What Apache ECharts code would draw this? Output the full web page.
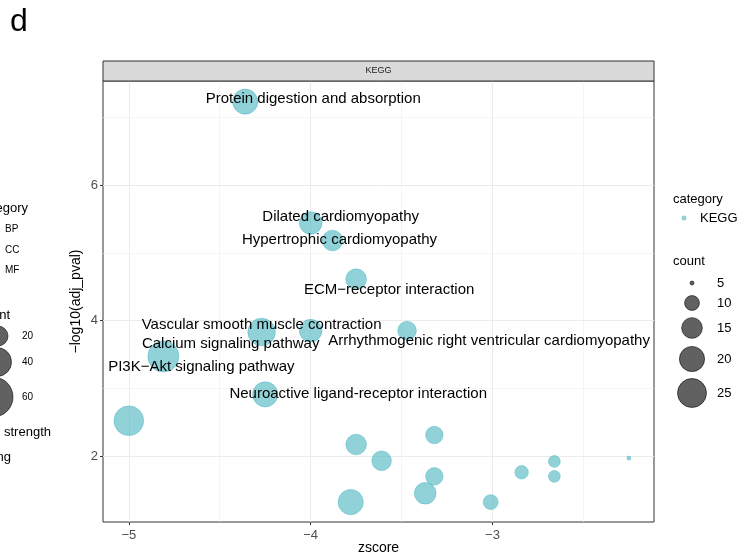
<!DOCTYPE html>
<html>
<head>
<meta charset="utf-8">
<script src="https://cdn.jsdelivr.net/npm/echarts@6/dist/echarts.min.js"></script>
<style>
html,body{margin:0;padding:0;background:#fff;}
#chart{width:746px;height:559px;}
</style>
</head>
<body>
<div id="chart"></div>
<script>
// ---- data ----
const pathways = [
  "Protein digestion and absorption",
  "Dilated cardiomyopathy",
  "Hypertrophic cardiomyopathy",
  "ECM\u2212receptor interaction",
  "Vascular smooth muscle contraction",
  "Calcium signaling pathway",
  "Arrhythmogenic right ventricular cardiomyopathy",
  "PI3K\u2212Akt signaling pathway",
  "Neuroactive ligand-receptor interaction",
  "", "", "", "", "", "", "", "", "", "", "", ""
];
const zscore = [-4.36, -4.00, -3.88, -3.75, -4.27, -4.00, -3.47, -4.81, -4.25,
  -5.00, -3.75, -3.32, -3.61, -3.32, -3.37, -3.78, -3.01, -2.84, -2.66, -2.66, -2.25];
const negLogAdjP = [7.23, 5.44, 5.18, 4.61, 3.83, 3.85, 3.85, 3.47, 2.91,
  2.52, 2.17, 2.31, 1.93, 1.70, 1.45, 1.32, 1.32, 1.76, 1.92, 1.70, 1.97];
const counts = [20, 17, 15, 15, 23, 17, 13, 28, 20,
  26, 15, 12, 14, 12, 16, 20, 10, 9, 8, 8, 5];
const xMajorTicks = [-5, -4, -3];
const xMinorTicks = [-4.5, -3.5, -2.5];
const yMajorTicks = [2, 4, 6];
const yMinorTicks = [3, 5, 7];
const sizeLegendCounts = [5, 10, 15, 20, 25];
const leftLegendCats = ["BP", "CC", "MF"];
const leftLegendSizes = [20, 40, 60];

// ---- styling ----
const FONT = "'Liberation Sans', Arial, Helvetica, sans-serif";
const pointColor = 'rgba(72,180,192,0.6)';
const xMin = -5.142, xMax = -2.112, yMin = 1.026, yMax = 7.535;
const gridL = 103, gridR = 92, gridT = 81, gridB = 37;
// label offsets (pixels, from point centre to label centre)
const labelOffsets = {
  "Protein digestion and absorption": [68, -3],
  "Dilated cardiomyopathy": [30, -6],
  "Hypertrophic cardiomyopathy": [7, -1],
  "ECM\u2212receptor interaction": [33, 11],
  "Vascular smooth muscle contraction": [0, -7],
  "Calcium signaling pathway": [-80, 13],
  "Arrhythmogenic right ventricular cardiomyopathy": [82, 10],
  "PI3K\u2212Akt signaling pathway": [38, 10],
  "Neuroactive ligand-receptor interaction": [93, 0]
};
function radiusFor(c) { return Math.sqrt(4 + (c - 5) * 10.3); }
const minusFmt = v => String(v).replace('-', '\u2212');

const data = zscore.map((z, i) => {
  const name = pathways[i];
  const item = { value: [z, negLogAdjP[i], counts[i]], name: name };
  if (name) item.label = { show: true };
  return item;
});

const chart = echarts.init(document.getElementById('chart'), null, { renderer: 'canvas' });

const plotW = 746 - gridL - gridR;
const graphics = [];
// panel strip
graphics.push({ type: 'rect', shape: { x: gridL, y: 61, width: plotW, height: 20 },
  style: { fill: '#D9D9D9', stroke: '#333333', lineWidth: 1 }, z: 10 });
graphics.push({ type: 'text', x: gridL + plotW / 2, y: 71,
  style: { text: 'KEGG', font: '9px ' + FONT, fill: '#1A1A1A', align: 'center', verticalAlign: 'middle' }, z: 11 });
// panel tag
graphics.push({ type: 'text', x: 10, y: 22,
  style: { text: 'd', font: '32px ' + FONT, fill: '#000', align: 'left', verticalAlign: 'middle' } });
// right legend: category
graphics.push({ type: 'text', x: 673, y: 199,
  style: { text: 'category', font: '13px ' + FONT, fill: '#000', align: 'left', verticalAlign: 'middle' } });
graphics.push({ type: 'circle', shape: { cx: 684, cy: 218, r: 2.5 }, style: { fill: pointColor } });
graphics.push({ type: 'text', x: 700, y: 218,
  style: { text: 'KEGG', font: '13px ' + FONT, fill: '#000', align: 'left', verticalAlign: 'middle' } });
// right legend: count
graphics.push({ type: 'text', x: 673, y: 261,
  style: { text: 'count', font: '13px ' + FONT, fill: '#000', align: 'left', verticalAlign: 'middle' } });
const sizeLegendY = [283, 303, 328, 359, 393];
sizeLegendCounts.forEach((c, i) => {
  graphics.push({ type: 'circle', shape: { cx: 692, cy: sizeLegendY[i], r: radiusFor(c) },
    style: { fill: 'rgba(0,0,0,0.62)', stroke: 'rgba(0,0,0,0.7)', lineWidth: 0.8 } });
  graphics.push({ type: 'text', x: 717, y: sizeLegendY[i],
    style: { text: String(c), font: '13px ' + FONT, fill: '#000', align: 'left', verticalAlign: 'middle' } });
});
// left remnant legend (from neighbouring panel)
graphics.push({ type: 'text', x: 28, y: 208,
  style: { text: 'egory', font: '13px ' + FONT, fill: '#000', align: 'right', verticalAlign: 'middle' } });
const leftCatY = [229, 250, 270];
leftLegendCats.forEach((t, i) => {
  graphics.push({ type: 'text', x: 5, y: leftCatY[i],
    style: { text: t, font: '10px ' + FONT, fill: '#000', align: 'left', verticalAlign: 'middle' } });
});
graphics.push({ type: 'text', x: 10, y: 315,
  style: { text: 'nt', font: '13px ' + FONT, fill: '#000', align: 'right', verticalAlign: 'middle' } });
const leftSizeY = [336, 362, 397];
const leftSizeR = [10, 14.5, 20];
const leftSizeCx = [-2, -3, -7];
leftLegendSizes.forEach((s, i) => {
  graphics.push({ type: 'circle', shape: { cx: leftSizeCx[i], cy: leftSizeY[i], r: leftSizeR[i] },
    style: { fill: 'rgba(0,0,0,0.62)', stroke: 'rgba(0,0,0,0.7)', lineWidth: 0.8 } });
  graphics.push({ type: 'text', x: 22, y: leftSizeY[i],
    style: { text: String(s), font: '10px ' + FONT, fill: '#000', align: 'left', verticalAlign: 'middle' } });
});
graphics.push({ type: 'text', x: 4, y: 432,
  style: { text: 'strength', font: '13px ' + FONT, fill: '#000', align: 'left', verticalAlign: 'middle' } });
graphics.push({ type: 'text', x: 11, y: 457,
  style: { text: 'ng', font: '13px ' + FONT, fill: '#000', align: 'right', verticalAlign: 'middle' } });

const axisCommon = { type: 'value', min: xMin, max: xMax, scale: true };

chart.setOption({
  animation: false,
  backgroundColor: '#fff',
  textStyle: { fontFamily: FONT },
  grid: { left: gridL, right: gridR, top: gridT, bottom: gridB, show: true,
    containLabel: false, outerBoundsMode: 'none',
    borderColor: '#333333', borderWidth: 1, backgroundColor: 'transparent' },
  xAxis: [
    Object.assign({}, axisCommon, {
      position: 'bottom',
      name: 'zscore', nameLocation: 'middle', nameGap: 19, nameMoveOverlap: false,
      nameTextStyle: { fontSize: 14, color: '#000', fontFamily: FONT },
      axisLine: { show: false },
      axisTick: { show: true, length: 3, lineStyle: { color: '#333' }, customValues: xMajorTicks },
      axisLabel: { show: true, customValues: xMajorTicks, formatter: minusFmt,
        fontSize: 13, color: '#4D4D4D', margin: 7, fontFamily: FONT },
      splitLine: { show: true, lineStyle: { color: '#EBEBEB', width: 1 } }
    }),
    Object.assign({}, axisCommon, {
      position: 'bottom', offset: 0,
      axisLine: { show: false },
      axisTick: { show: false, customValues: xMinorTicks },
      axisLabel: { show: false },
      splitLine: { show: true, lineStyle: { color: '#EFEFEF', width: 0.6 } }
    })
  ],
  yAxis: [
    {
      type: 'value', min: yMin, max: yMax, position: 'left',
      name: '\u2212log10(adj_pval)', nameLocation: 'middle', nameGap: 20, nameMoveOverlap: false,
      nameTextStyle: { fontSize: 14, color: '#000', fontFamily: FONT },
      axisLine: { show: false },
      axisTick: { show: true, length: 3, lineStyle: { color: '#333' }, customValues: yMajorTicks },
      axisLabel: { show: true, customValues: yMajorTicks, formatter: minusFmt,
        fontSize: 13, color: '#4D4D4D', margin: 5, fontFamily: FONT },
      splitLine: { show: true, lineStyle: { color: '#EBEBEB', width: 1 } }
    },
    {
      type: 'value', min: yMin, max: yMax, position: 'left', offset: 0,
      axisLine: { show: false },
      axisTick: { show: false, customValues: yMinorTicks },
      axisLabel: { show: false },
      splitLine: { show: true, lineStyle: { color: '#EFEFEF', width: 0.6 } }
    }
  ],
  series: [{
    type: 'scatter',
    xAxisIndex: 0, yAxisIndex: 0,
    data: data,
    symbol: 'circle',
    symbolSize: v => 2 * radiusFor(v[2]),
    itemStyle: { color: pointColor, borderColor: 'rgba(72,180,192,0.75)', borderWidth: 0.6, opacity: 1 },
    label: {
      show: false, position: 'inside',
      formatter: p => p.name,
      fontSize: 15, color: '#000', fontFamily: FONT,
      align: 'center', verticalAlign: 'middle'
    },
    labelLayout: p => {
      const o = labelOffsets[pathways[p.dataIndex]];
      return o ? { dx: o[0], dy: o[1], hideOverlap: false } : {};
    },
    emphasis: { disabled: true },
    z: 3
  }],
  graphic: graphics
});
</script>
</body>
</html>
